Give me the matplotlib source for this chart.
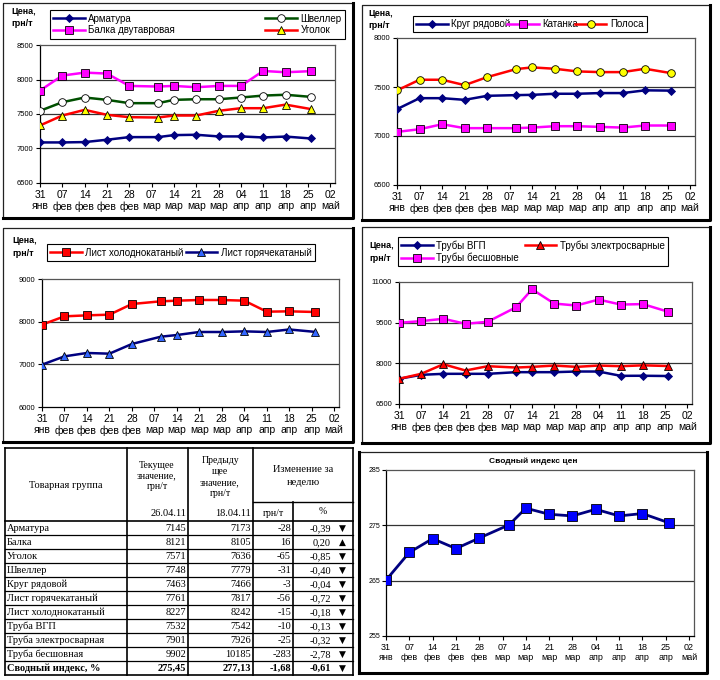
import matplotlib
matplotlib.use('Agg')
import matplotlib.pyplot as plt
import pandas as pd

W, H = 720, 680
plt.rcParams['font.family'] = ['Liberation Sans', 'DejaVu Sans']

# даты замеров и подписи оси
dates = pd.to_datetime(['2011-01-31', '2011-02-07', '2011-02-14', '2011-02-21', '2011-02-28',
                        '2011-03-09', '2011-03-14', '2011-03-21', '2011-03-28', '2011-04-04',
                        '2011-04-11', '2011-04-18', '2011-04-26'])
tick_dates = pd.date_range('2011-01-31', '2011-05-02', freq='7D')
months = {1: 'янв', 2: 'фев', 3: 'мар', 4: 'апр', 5: 'май'}

# график 1
arm = [7088, 7088, 7093, 7127, 7165, 7165, 7194, 7199, 7175, 7175, 7160, 7173, 7145]
balka = [7840, 8057, 8100, 8086, 7907, 7898, 7907, 7888, 7907, 7907, 8124, 8105, 8121]
shv = [7546, 7671, 7739, 7705, 7657, 7657, 7705, 7714, 7714, 7739, 7767, 7779, 7748]
ugol = [7334, 7478, 7560, 7488, 7454, 7449, 7478, 7478, 7546, 7584, 7584, 7636, 7571]
# график 2
krug = [7274, 7386, 7386, 7369, 7410, 7417, 7420, 7431, 7431, 7438, 7438, 7466, 7463]
katanka = [7042, 7069, 7120, 7080, 7080, 7080, 7086, 7100, 7100, 7093, 7086, 7107, 7107]
polosa = [7465, 7574, 7574, 7519, 7601, 7683, 7700, 7686, 7659, 7652, 7652, 7686, 7642]
# график 3
list_hol = [7930, 8125, 8148, 8164, 8414, 8477, 8492, 8508, 8508, 8492, 8234, 8242, 8227]
list_gor = [6992, 7187, 7266, 7250, 7477, 7648, 7687, 7758, 7758, 7773, 7758, 7817, 7761]
# график 4
vgp = [7429, 7576, 7613, 7613, 7613, 7674, 7674, 7674, 7698, 7698, 7539, 7542, 7532]
elektro = [7429, 7613, 7967, 7735, 7894, 7845, 7870, 7918, 7870, 7918, 7894, 7926, 7901]
besh = [9496, 9557, 9643, 9459, 9533, 10071, 10731, 10205, 10132, 10352, 10168, 10185, 9902]
# сводный индекс
idx = [265.1, 270.1, 272.6, 270.8, 272.7, 275.1, 278.1, 277.0, 276.7, 277.9, 276.7, 277.13, 275.45]

# таблица
groups = ['Арматура', 'Балка', 'Уголок', 'Швеллер', 'Круг рядовой', 'Лист горячекатаный',
          'Лист холоднокатаный', 'Труба ВГП', 'Труба электросварная', 'Труба бесшовная',
          'Сводный индекс, %']
cur = ['7145', '8121', '7571', '7748', '7463', '7761', '8227', '7532', '7901', '9902', '275,45']
prev = ['7173', '8105', '7636', '7779', '7466', '7817', '8242', '7542', '7926', '10185', '277,13']
diff = ['-28', '16', '-65', '-31', '-3', '-56', '-15', '-10', '-25', '-283', '-1,68']
pct = ['-0,39', '0,20', '-0,85', '-0,40', '-0,04', '-0,72', '-0,18', '-0,13', '-0,32', '-2,78', '-0,61']

NAVY, MAG, RED, YEL = '#000080', '#FF00FF', '#FF0000', '#FFFF00'


def box(x0, y0, x1, y1):
    return [x0 / W, 1 - y1 / H, (x1 - x0) / W, (y1 - y0) / H]


fig = plt.figure(figsize=(7.2, 6.8), dpi=100)
ov = fig.add_axes([0, 0, 1, 1], zorder=-1)
ov.set_xlim(0, W); ov.set_ylim(H, 0); ov.axis('off')


def frame(x0, y0, x1, y1):
    ov.plot([x0, x0, x1], [y1, y0, y0], color='#222222', lw=0.9)
    ov.plot([x1, x1, x0], [y0, y1, y1], color='black', lw=2.2)


def chart(rect, ylim, yticks, tick_fs=7.5, ytick_fs=5.5):
    ax = fig.add_axes(box(*rect))
    ax.set_xlim(dates[0], dates[0] + pd.Timedelta(days=92.5))
    ax.set_ylim(*ylim)
    ax.set_xticks(tick_dates)
    ax.set_xticklabels(['%02d\n%s' % (d.day, months[d.month]) for d in tick_dates],
                       fontsize=tick_fs, linespacing=1.15)
    ax.set_yticks(yticks)
    ax.set_yticklabels([str(t) for t in yticks], fontsize=ytick_fs)
    ax.tick_params(direction='out', length=3, width=0.8, pad=2)
    for t in yticks[1:-1]:
        ax.axhline(t, color='#333333', lw=0.9, zorder=1)
    for s in ['top', 'right']:
        ax.spines[s].set_color('#555555')
    for s in ax.spines.values():
        s.set_linewidth(0.9)
    return ax


def series(ax, y, color, marker, mfc, ms=5.5, mec='black', lw=1.8):
    return ax.plot(dates, y, color=color, lw=lw, marker=marker, mfc=mfc, mec=mec,
                   ms=ms, mew=0.6, zorder=3)[0]


def legend(handles, labels, rect, ncol):
    lg = fig.legend(handles, labels, loc='center', bbox_to_anchor=box(*rect), mode='expand',
                    ncol=ncol, fontsize=7, frameon=True, fancybox=False, edgecolor='black',
                    framealpha=1, handlelength=3.2, borderaxespad=0, borderpad=0.35,
                    labelspacing=0.2, handletextpad=0.4, columnspacing=1.0)
    lg.get_frame().set_linewidth(0.8)


def price_label(x, y):
    fig.text(x / W, 1 - y / H, 'Цена,\nгрн/т', fontsize=6.5, fontweight='bold',
             ha='left', va='top', linespacing=1.5)


# панель 1
frame(3, 3, 353, 218)
ax1 = chart((40, 45, 335, 183), (6500, 8500), [6500, 7000, 7500, 8000, 8500])
h = [series(ax1, arm, NAVY, 'D', NAVY, ms=4.5, mec=NAVY),
     series(ax1, balka, MAG, 's', MAG),
     series(ax1, shv, '#005000', 'o', 'white'),
     series(ax1, ugol, RED, '^', YEL)]
legend(h, ['Арматура', 'Балка двутавровая', 'Швеллер', 'Уголок'], (50, 11, 345, 38), 2)
price_label(11, 7)

# панель 2
frame(362, 5, 710, 220)
ax2 = chart((397, 38, 695, 185), (6500, 8000), [6500, 7000, 7500, 8000])
h = [series(ax2, krug, NAVY, 'D', NAVY, ms=4.5, mec=NAVY),
     series(ax2, katanka, MAG, 's', MAG),
     series(ax2, polosa, RED, 'o', YEL)]
legend(h, ['Круг рядовой', 'Катанка', 'Полоса'], (413, 14, 647, 34), 3)
price_label(368, 9)

# панель 3
frame(3, 228, 353, 442)
ax3 = chart((42, 279, 339, 407), (6000, 9000), [6000, 7000, 8000, 9000])
h = [series(ax3, list_hol, RED, 's', RED),
     series(ax3, list_gor, NAVY, '^', '#3366FF')]
legend(h, ['Лист холоднокатаный', 'Лист горячекатаный'], (47, 242, 315, 263), 2)
price_label(12, 236)

# панель 4
frame(362, 227, 710, 443)
ax4 = chart((399, 282, 692, 404), (6500, 11000), [6500, 8000, 9500, 11000])
h = [series(ax4, vgp, NAVY, 'D', NAVY, ms=4.5, mec=NAVY),
     series(ax4, besh, MAG, 's', MAG),
     series(ax4, elektro, RED, '^', RED)]
legend(h, ['Трубы ВГП', 'Трубы бесшовные', 'Трубы электросварные'], (398, 235, 668, 268), 2)
price_label(369, 241)

# панель индекса
frame(359, 452, 707, 673)
ov.plot([359, 359], [452, 673], color='black', lw=2.2)
ax5 = chart((386, 470, 694, 636), (255, 285), [255, 265, 275, 285], tick_fs=6.5, ytick_fs=5)
ax5.tick_params(axis='y', pad=1)
series(ax5, idx, NAVY, 's', '#0000FF', ms=6.5, lw=2)
fig.text(533 / W, 1 - 461 / H, 'Сводный индекс цен', fontsize=6, fontweight='bold',
         ha='center', va='center')

# таблица
cols = [5, 127, 188, 253, 293, 353]
top, sub, hdr, rh = 448, 502, 521, 14
serif = ['Liberation Serif', 'DejaVu Sans']
lc = 'black'
ov.plot([cols[0], cols[-1]], [top, top], color=lc, lw=1.2)
for x in cols:
    y0 = sub if x == cols[4] else top
    ov.plot([x, x], [y0, hdr + rh * len(groups)], color=lc, lw=1.2)
ov.plot([cols[3], cols[5]], [sub, sub], color=lc, lw=1.0)
for i in range(len(groups) + 1):
    y = hdr + rh * i
    ov.plot([cols[0], cols[-1]], [y, y], color=lc, lw=1.2 if i in (0, len(groups)) else 0.9)

fs = 7.5
ov.text(66, 485, 'Товарная группа', fontsize=fs, family=serif, ha='center', va='center')
ov.text(157, 476, 'Текущее\nзначение,\nгрн/т', fontsize=7, family=serif, ha='center',
        va='center', linespacing=1.25)
ov.text(220, 477, 'Предыду\nщее\nзначение,\nгрн/т', fontsize=7, family=serif, ha='center',
        va='center', linespacing=1.25)
ov.text(303, 476, 'Изменение за\nнеделю', fontsize=fs, family=serif, ha='center',
        va='center', linespacing=1.6)
ov.text(186, 513, '26.04.11', fontsize=fs, family=serif, ha='right', va='center')
ov.text(251, 513, '18.04.11', fontsize=fs, family=serif, ha='right', va='center')
ov.text(273, 513, 'грн/т', fontsize=7, family=serif, ha='center', va='center')
ov.text(323, 512, '%', fontsize=7, family=serif, ha='center', va='center')

for i, g in enumerate(groups):
    y = hdr + rh * i + rh / 2 + 0.5
    wt = 'bold' if i == len(groups) - 1 else 'normal'
    ov.text(7, y, g, fontsize=fs, family=serif, ha='left', va='center', fontweight=wt)
    ov.text(186, y, cur[i], fontsize=fs, family=serif, ha='right', va='center', fontweight=wt)
    ov.text(251, y, prev[i], fontsize=fs, family=serif, ha='right', va='center', fontweight=wt)
    ov.text(291, y, diff[i], fontsize=fs, family=serif, ha='right', va='center', fontweight=wt)
    ov.text(331, y, pct[i], fontsize=fs, family=serif, ha='right', va='center', fontweight=wt)
    arrow = '▲' if not pct[i].startswith('-') else '▼'
    ov.text(342, y, arrow, fontsize=6.5, family=['DejaVu Sans'], ha='center', va='center')

fig.savefig('out.png', dpi=100)
